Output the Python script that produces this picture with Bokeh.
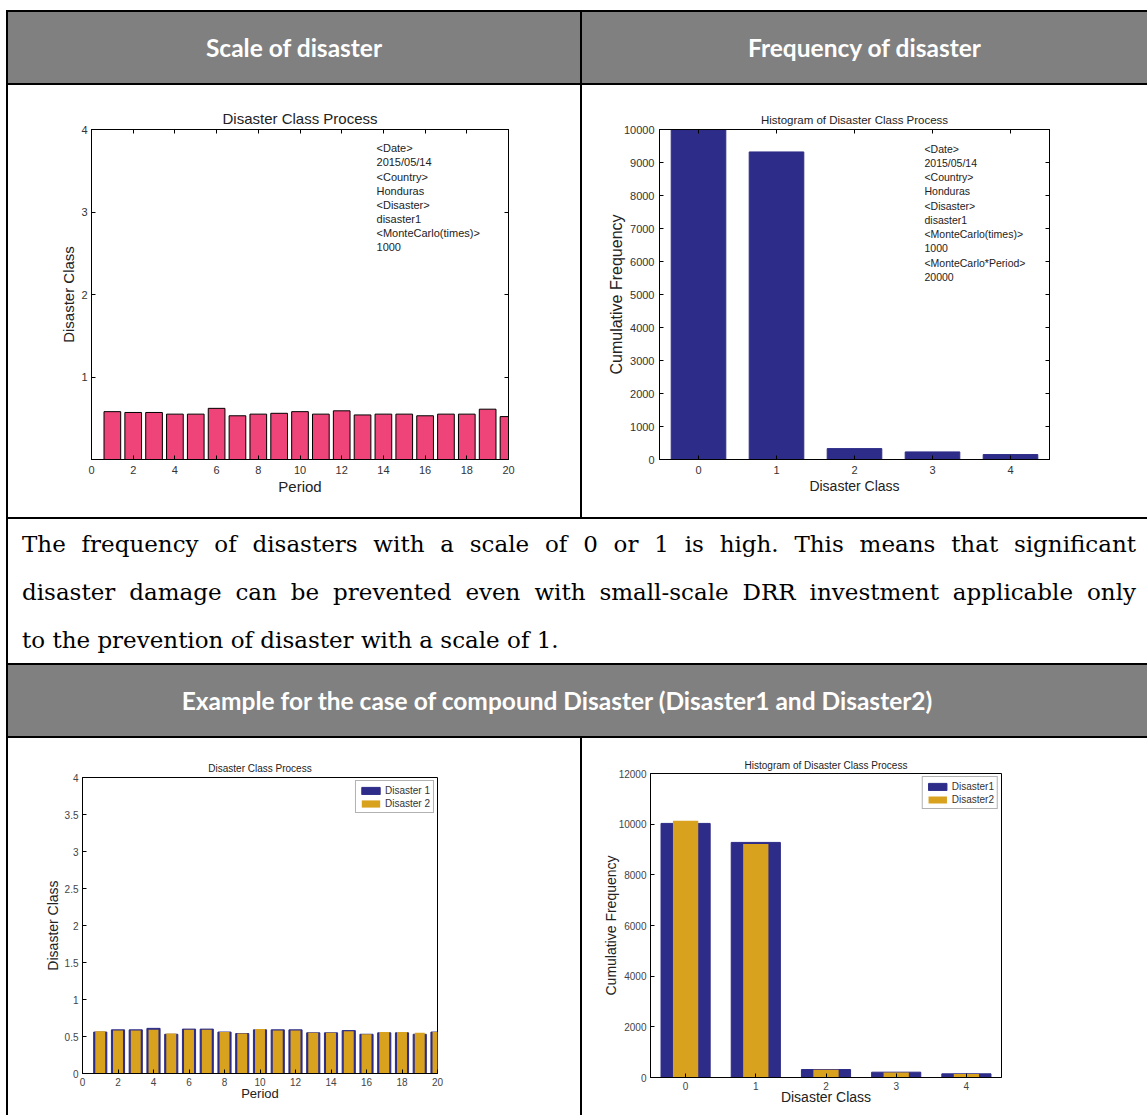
from bokeh.plotting import figure
from bokeh.layouts import column, row
from bokeh.models import Div, Label, FixedTicker, LinearAxis, CustomJSTickFormatter, Range1d
from bokeh.embed import file_html
from bokeh.resources import INLINE

# ---------------- data ----------------
periods = list(range(1, 21))
scale_d1 = [0.58, 0.57, 0.57, 0.55, 0.55, 0.62, 0.53, 0.55, 0.56, 0.58,
            0.55, 0.59, 0.54, 0.55, 0.55, 0.53, 0.55, 0.55, 0.61, 0.52]
classes = [0, 1, 2, 3, 4]
freq_d1 = [9990, 9320, 330, 230, 150]

comp_scale_d1 = [0.56, 0.59, 0.59, 0.61, 0.53, 0.60, 0.60, 0.56, 0.54, 0.59,
                 0.59, 0.59, 0.55, 0.55, 0.58, 0.53, 0.55, 0.55, 0.53, 0.56]
comp_scale_d2 = [0.57, 0.58, 0.58, 0.59, 0.54, 0.59, 0.59, 0.56, 0.54, 0.60,
                 0.58, 0.58, 0.55, 0.55, 0.57, 0.53, 0.56, 0.56, 0.55, 0.56]
comp_freq_d1 = [10030, 9280, 315, 210, 145]
comp_freq_d2 = [10130, 9220, 310, 195, 140]

info1 = ["<Date>", "2015/05/14", "<Country>", "Honduras", "<Disaster>", "disaster1",
         "<MonteCarlo(times)>", "1000"]
info2 = info1 + ["<MonteCarlo*Period>", "20000"]

PINK = "#EE4479"
NAVY = "#2D2C88"
GOLD = "#D9A21E"
GRAY = "#808080"
FONT = "Liberation Sans"

W = 1141          # table width (x 6 .. 1147)
LW = 572          # left cell content width


def empty_fmt():
    return CustomJSTickFormatter(code="return ''")


def mfig(w, h, xr, yr, borders, title, tsize, xlabel, ylabel, lsize, ticksize,
         xticks, yticks, txtcol, xlsize=None, mirror=True, tstand=7,
         xstand=(6, 1), ystand=(4, 1)):
    bl, br, bt, bb = borders
    p = figure(width=w, height=h, x_range=Range1d(*xr), y_range=Range1d(*yr),
               output_backend="svg", toolbar_location=None,
               min_border_left=bl, min_border_right=br, min_border_top=bt,
               min_border_bottom=bb, margin=0)
    p.title.text = title
    p.title.align = "center"
    p.title.text_font = FONT
    p.title.text_font_style = "normal"
    p.title.text_font_size = tsize
    p.title.text_color = "#222222"
    p.title.standoff = tstand
    p.xgrid.visible = False
    p.ygrid.visible = False
    p.outline_line_color = "black"
    p.outline_line_alpha = 1
    p.background_fill_color = "white"
    p.border_fill_color = "white"
    for ax, ticks, lab, ls, st in ((p.xaxis[0], xticks, xlabel, xlsize or lsize, xstand),
                                   (p.yaxis[0], yticks, ylabel, lsize, ystand)):
        ax.ticker = FixedTicker(ticks=ticks)
        ax.axis_label = lab
        ax.axis_label_text_font = FONT
        ax.axis_label_text_font_style = "normal"
        ax.axis_label_text_font_size = ls
        ax.axis_label_text_color = "#222222"
        ax.major_label_standoff = st[0]
        ax.axis_label_standoff = st[1]
        ax.major_label_text_font = FONT
        ax.major_label_text_font_size = ticksize
        ax.major_label_text_color = txtcol
        ax.major_tick_in = 4
        ax.major_tick_out = 0
        ax.minor_tick_in = 0
        ax.minor_tick_out = 0
        ax.axis_line_color = "black"
        ax.major_tick_line_color = "black"
    if mirror:
        for side, ticks in (("right", yticks), ("above", xticks)):
            ax = LinearAxis(ticker=FixedTicker(ticks=ticks), formatter=empty_fmt(),
                            major_tick_in=4, major_tick_out=0, minor_tick_in=0,
                            minor_tick_out=0, major_label_standoff=0,
                            major_label_text_font_size="1px",
                            axis_line_color="black")
            p.add_layout(ax, side)
    return p


# ---------- chart 1: scale of disaster ----------
p1 = mfig(LW, 432, (0, 20), (0, 4), (83, 72, 44, 58), "Disaster Class Process", "15px",
          "Period", "Disaster Class", "15px", "11px", list(range(0, 21, 2)), [0, 1, 2, 3, 4],
          "#333333", tstand=6)
p1.yaxis[0].major_label_overrides = {0: ""}
p1.vbar(x=periods, top=scale_d1, width=0.8, fill_color=PINK, line_color="black", line_width=1)
p1.add_layout(Label(x=13.67, y=3.845, text="\n".join(info1), text_font=FONT,
                    text_font_size="11px", text_baseline="top", text_line_height=1.18,
                    text_color="#222222"))

# ---------- chart 2: frequency of disaster ----------
p2 = mfig(W - LW - 4, 432, (-0.5, 4.5), (0, 10000), (77, 98, 44, 58),
          "Histogram of Disaster Class Process", "11.5px", "Disaster Class",
          "Cumulative Frequency", "16px", "11px", classes, list(range(0, 10001, 1000)),
          "#333333", xlsize="14px", tstand=8, ystand=(5, -4))
p2.vbar(x=classes, top=freq_d1, width=0.7, fill_color=NAVY, line_color=NAVY)
p2.add_layout(Label(x=2.897, y=9606, text="\n".join(info2), text_font=FONT,
                    text_font_size="10.5px", text_baseline="top", text_line_height=1.19,
                    text_color="#222222"))

# ---------- chart 3: compound scale ----------
p3 = mfig(LW, 377, (0, 20), (0, 4), (74, 143, 39, 42), "Disaster Class Process", "10px",
          "Period", "Disaster Class", "14px", "10px", list(range(0, 21, 2)),
          [0, 0.5, 1, 1.5, 2, 2.5, 3, 3.5, 4], "#444444", xlsize="13px", mirror=False,
          tstand=7, xstand=(4, -3), ystand=(4, 1))
p3.vbar(x=periods, top=comp_scale_d1, width=0.74, fill_color=NAVY, line_color=NAVY,
        legend_label="Disaster 1")
p3.vbar(x=periods, top=comp_scale_d2, width=0.56, fill_color=GOLD, line_color=None,
        legend_label="Disaster 2")

# ---------- chart 4: compound frequency ----------
p4 = mfig(W - LW - 4, 377, (-0.5, 4.5), (0, 12000), (68, 146, 35, 38),
          "Histogram of Disaster Class Process", "10px", "Disaster Class",
          "Cumulative Frequency", "14px", "10px", classes, list(range(0, 12001, 2000)),
          "#444444", mirror=False, tstand=6, xstand=(4, -4), ystand=(4, -3))
p4.vbar(x=classes, top=comp_freq_d1, width=0.7, fill_color=NAVY, line_color=NAVY,
        legend_label="Disaster1")
p4.vbar(x=classes, top=comp_freq_d2, width=0.36, fill_color=GOLD, line_color=None,
        legend_label="Disaster2")

for p in (p3, p4):
    lg = p.legend[0]
    lg.location = "top_right"
    lg.margin = 3
    lg.padding = 3
    lg.spacing = 1
    lg.glyph_width = 23
    lg.glyph_height = 9
    lg.label_height = 12
    lg.label_standoff = 3
    lg.label_text_font = FONT
    lg.label_text_font_size = "10px"
    lg.label_text_color = "#333333"
    lg.border_line_color = "#666666"
    lg.border_line_width = 1
    lg.background_fill_alpha = 1

# ---------------- table parts (box-sizing is border-box) ----------------
HFONT = "font-family:Lato,'Open Sans',sans-serif;font-weight:bold;font-size:24.5px;color:white;"

head1 = Div(width=W, height=85, margin=0, text=(
    f'<div style="box-sizing:border-box;margin-top:10px;width:{W}px;height:75px;background:{GRAY};'
    'border-top:2px solid #000;border-bottom:2px solid #000;border-left:2px solid #000;display:flex;">'
    f'<div style="box-sizing:border-box;width:{LW+2}px;height:71px;border-right:2px solid #000;display:flex;align-items:center;justify-content:center;{HFONT}">Scale of disaster</div>'
    f'<div style="flex:1;height:71px;display:flex;align-items:center;justify-content:center;{HFONT}">Frequency of disaster</div>'
    '</div>'))


def vline(h):
    return Div(width=2, height=h, margin=0, styles={"background-color": "black"})


row1 = row(vline(432), p1, vline(432), p2, spacing=0)

PFONT = "font-family:'DejaVu Serif',serif;font-size:23px;color:#000;line-height:48px;height:48px;"
para = Div(width=W, height=148, margin=0, text=(
    f'<div style="box-sizing:border-box;width:{W}px;height:148px;padding:1px 11px 0 14px;'
    'border-top:2px solid #000;border-bottom:2px solid #000;border-left:2px solid #000;">'
    f'<div style="{PFONT}text-align:justify;text-align-last:justify;">The frequency of disasters with a scale of 0 or 1 is high. This means that significant</div>'
    f'<div style="{PFONT}text-align:justify;text-align-last:justify;">disaster damage can be prevented even with small-scale DRR investment applicable only</div>'
    f'<div style="{PFONT}text-align:left;">to the prevention of disaster with a scale of 1.</div>'
    '</div>'))

head2 = Div(width=W, height=73, margin=0, text=(
    f'<div style="box-sizing:border-box;width:{W}px;height:73px;background:{GRAY};border-bottom:2px solid #000;'
    f'border-left:2px solid #000;padding-right:41px;display:flex;align-items:center;justify-content:center;{HFONT}">'
    'Example for the case of compound Disaster (Disaster1 and Disaster2)</div>'))

row2 = row(vline(377), column(p3, margin=0), vline(377), column(p4, margin=0), spacing=0)

layout = column(head1, row1, para, head2, row2, spacing=0, margin=(0, 0, 0, 6))

open("out.html", "w").write(file_html(layout, INLINE))
